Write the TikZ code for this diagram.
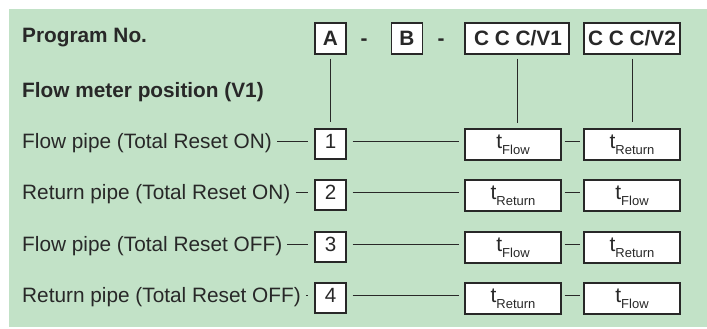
\documentclass[tikz,border=0pt]{standalone}
\usepackage{fontspec}
\setmainfont{Liberation Sans}
\definecolor{panelgreen}{RGB}{194,226,199}
\definecolor{ink}{RGB}{40,40,40}
\newcommand{\tsub}[1]{t\raisebox{-6pt}{\fontsize{13}{13}\selectfont #1}}
\begin{document}
\begin{tikzpicture}[x=1pt,y=-1pt,
  lbl/.style={anchor=west, inner sep=0pt, text=ink,
    font=\fontsize{20.8}{24}\selectfont, text height=14.7pt, text depth=0pt},
  head/.style={lbl, font=\bfseries\fontsize{20.8}{24}\selectfont, text height=15pt},
  boxbase/.style={draw=ink, fill=white, line width=1.1pt, inner sep=0pt, text=ink},
  hbox/.style={boxbase, minimum height=31pt,
    font=\bfseries\fontsize{20.8}{24}\selectfont, text height=15pt, text depth=0pt},
  numbox/.style={boxbase, minimum width=31pt, minimum height=30pt,
    font=\fontsize{20.6}{24}\selectfont, text height=14.7pt, text depth=5pt},
  tbox/.style={boxbase, minimum width=96pt, minimum height=31pt,
    font=\fontsize{21}{24}\selectfont, text height=14pt, text depth=6pt},
  dashmark/.style={inner sep=0pt, text=ink, font=\bfseries\fontsize{20.8}{24}\selectfont,
    text height=15pt, text depth=0pt},
  conn/.style={draw=ink, line width=1pt}
]
% page and green panel
\useasboundingbox (0,0) rectangle (707,329);
\fill[white] (0,0) rectangle (707,329);
\fill[panelgreen] (9,9) rectangle (707,327);

% header line
\node[head] (prog) at (22,35.5) {Program No.};
\node[head] (fmpos) at (22,90) {Flow meter position (V1)};
\node[hbox, minimum width=31pt] (hA) at (330.5,38.5) {A};
\node[dashmark] (d1) at (364,38.5) {-};
\node[hbox, minimum width=31pt] (hB) at (407,38.5) {B};
\node[dashmark] (d2) at (441,38.5) {-};
\node[hbox, minimum width=104pt] (hC1) at (517,38.5) {\kern2pt C C C/V1};
\node[hbox, minimum width=96pt] (hC2) at (632,38.5) {C C C/V2};

% rows: label, program digit, V1 and V2 sensor assignment
\foreach \i/\ry/\txt/\va/\vb in {
  1/141/Flow pipe (Total Reset ON)/Flow/Return,
  2/192/Return pipe (Total Reset ON)/Return/Flow,
  3/244/Flow pipe (Total Reset OFF)/Flow/Return,
  4/295/Return pipe (Total Reset OFF)/Return/Flow}{
  \node[lbl] (l\i) at (22,\ry) {\txt};
  \node[numbox] (n\i) at (330.5,\ry+3) {\i};
  \node[tbox] (a\i) at (513,\ry+3.5) {\tsub{\va}};
  \node[tbox] (b\i) at (632,\ry+3.5) {\tsub{\vb}};
  \draw[conn, shorten <=5pt, shorten >=6pt] (l\i.east) -- (n\i.west |- l\i.east);
  \draw[conn, shorten <=6pt, shorten >=5pt] (n\i.east |- l\i.east) -- (a\i.west |- l\i.east);
  \draw[conn, shorten <=3pt, shorten >=3pt] (a\i.east |- l\i.east) -- (b\i.west |- l\i.east);
}

% drop lines from the header fields
\draw[conn, shorten <=4pt, shorten >=6pt] (hA.south) -- (n1.north);
\draw[conn, shorten <=4pt, shorten >=5pt] (hC1.south) -- (hC1.south |- a1.north);
\draw[conn, shorten <=4pt, shorten >=6pt] (hC2.south) -- (hC2.south |- b1.north);
\end{tikzpicture}
\end{document}
